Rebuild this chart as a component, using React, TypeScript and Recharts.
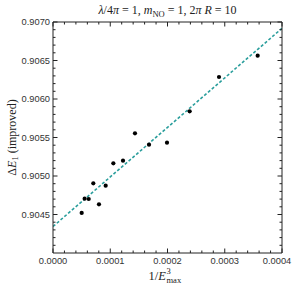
import React from "react";
import { ComposedChart, XAxis, YAxis, Scatter, Line } from "recharts";

// Data points (1/E_max^3 vs ΔE_1 improved)
const pointX = [0.0000501, 0.0000553, 0.0000624, 0.0000704, 0.0000803, 0.000092, 0.0001054, 0.0001223, 0.0001432, 0.0001677, 0.0001991, 0.0002387, 0.00029, 0.0003575];
const pointY = [0.90452, 0.904705, 0.904701, 0.904905, 0.904632, 0.904874, 0.905165, 0.905199, 0.905554, 0.905407, 0.905433, 0.90584, 0.906286, 0.906563];

// Fitted line endpoints
const fitX = [0, 0.0004];
const fitY = [0.904344, 0.906918];

// Axis ticks
const xMajorTicks = [0, 0.0001, 0.0002, 0.0003, 0.0004];
const yMajorTicks = [0.9045, 0.905, 0.9055, 0.906, 0.9065, 0.907];
const xDomain = [0, 0.0004];
const yDomain = [0.904, 0.907];

const points = pointX.map((x, i) => ({ x, y: pointY[i] }));
const fitLine = fitX.map((x, i) => ({ x, y: fitY[i] }));

const xMinorStep = 0.00002;
const yMinorStep = 0.0001;
const xTicks: number[] = [];
for (let i = 0; i <= 20; i++) xTicks.push(i * xMinorStep);
const yTicks: number[] = [];
for (let i = 1; i <= 30; i++) yTicks.push(0.904 + i * yMinorStep);

const isXMajor = (v: number) => xMajorTicks.some((m) => Math.abs(m - v) < 1e-9);
const isYMajor = (v: number) => yMajorTicks.some((m) => Math.abs(m - v) < 1e-9);

const FRAME = "#222";
const TICK_FONT = "'Liberation Sans', Arial, sans-serif";
const SERIF = "'Liberation Serif', 'Times New Roman', serif";
const TEAL = "#2a9e9c";
const TICK_FS = 9.3;

const makeTick = (side: "bottom" | "top" | "left" | "right") => (props: any) => {
  const { x, y, payload } = props;
  const v = payload.value;
  const major = side === "bottom" || side === "top" ? isXMajor(v) : isYMajor(v);
  const len = major ? 4.5 : 2.5;
  if (side === "bottom") {
    // keep the last label inside the picture, as the reference does
    const lx = Math.min(x, 277);
    return (
      <g>
        <line x1={x} y1={y} x2={x} y2={y - len} stroke={FRAME} strokeWidth={1} />
        {major && (
          <text x={lx} y={y + 10.5} textAnchor="middle" fontSize={TICK_FS} fontFamily={TICK_FONT} fill="#333">
            {v.toFixed(4)}
          </text>
        )}
      </g>
    );
  }
  if (side === "top") {
    return <line x1={x} y1={y} x2={x} y2={y + len} stroke={FRAME} strokeWidth={1} />;
  }
  if (side === "left") {
    return (
      <g>
        <line x1={x} y1={y} x2={x + len} y2={y} stroke={FRAME} strokeWidth={1} />
        {major && (
          <text x={x - 3} y={y + 3.3} textAnchor="end" fontSize={TICK_FS} fontFamily={TICK_FONT} fill="#333">
            {v.toFixed(4)}
          </text>
        )}
      </g>
    );
  }
  return <line x1={x} y1={y} x2={x - len} y2={y} stroke={FRAME} strokeWidth={1} />;
};

const XLabel = (props: any) => {
  const { viewBox } = props;
  const cx = viewBox.x + viewBox.width / 2;
  const x0 = cx - 19;
  const base = 280;
  return (
    <g fontFamily={SERIF} fill="#222">
      <text x={x0} y={base} fontSize={12.5}>
        1/<tspan fontStyle="italic">E</tspan>
      </text>
      <text x={x0 + 18} y={base - 6.5} fontSize={8.5}>3</text>
      <text x={x0 + 18} y={base + 3} fontSize={8.5}>max</text>
    </g>
  );
};

const YLabel = (props: any) => {
  const { viewBox } = props;
  const cy = viewBox.y + viewBox.height / 2;
  const cx = 12;
  return (
    <text
      x={cx}
      y={cy}
      transform={`rotate(-90, ${cx}, ${cy})`}
      textAnchor="middle"
      fontSize={12}
      fontFamily={SERIF}
      fill="#222"
      dominantBaseline="central"
    >
      Δ<tspan fontStyle="italic">E</tspan>
      <tspan fontSize={8.5} dy={3}>1</tspan>
      <tspan dy={-3}> (improved)</tspan>
    </text>
  );
};

const Title = (props: any) => {
  const { viewBox } = props;
  const cx = viewBox.x + viewBox.width / 2;
  return (
    <text x={cx} y={14} textAnchor="middle" fontSize={12} fontFamily={SERIF} fill="#222">
      <tspan fontStyle="italic">λ</tspan>/4<tspan fontStyle="italic">π</tspan> = 1,{" "}
      <tspan fontStyle="italic">m</tspan>
      <tspan fontSize={8.5} dy={2.5}>NO</tspan>
      <tspan dy={-2.5}> = 1, 2</tspan>
      <tspan fontStyle="italic">π R</tspan> = 10
    </text>
  );
};

export default function App() {
  return (
    <div style={{ position: "absolute", left: 0, top: 0, background: "#fff" }}>
      <ComposedChart width={293} height={287} margin={{ top: 0, right: 0, bottom: 0, left: 0 }}>
        <XAxis
          xAxisId="b"
          orientation="bottom"
          type="number"
          dataKey="x"
          domain={xDomain}
          allowDataOverflow
          ticks={xTicks}
          interval={0}
          tick={makeTick("bottom")}
          tickLine={false}
          tickSize={0}
          tickMargin={0}
          height={34}
          axisLine={{ stroke: FRAME }}
          label={<XLabel />}
        />
        <XAxis
          xAxisId="t"
          orientation="top"
          type="number"
          dataKey="x"
          domain={xDomain}
          allowDataOverflow
          ticks={xTicks}
          interval={0}
          tick={makeTick("top")}
          tickLine={false}
          tickSize={0}
          tickMargin={0}
          height={22}
          axisLine={{ stroke: FRAME }}
          label={<Title />}
        />
        <YAxis
          yAxisId="l"
          orientation="left"
          type="number"
          dataKey="y"
          domain={yDomain}
          allowDataOverflow
          ticks={yTicks}
          interval={0}
          tick={makeTick("left")}
          tickLine={false}
          tickSize={0}
          tickMargin={0}
          width={53}
          axisLine={{ stroke: FRAME }}
          label={<YLabel />}
        />
        <YAxis
          yAxisId="r"
          orientation="right"
          type="number"
          dataKey="y"
          domain={yDomain}
          allowDataOverflow
          ticks={yTicks}
          interval={0}
          tick={makeTick("right")}
          tickLine={false}
          tickSize={0}
          tickMargin={0}
          width={11}
          axisLine={{ stroke: FRAME }}
        />
        <Line
          xAxisId="b"
          yAxisId="l"
          data={fitLine}
          dataKey="y"
          type="linear"
          stroke={TEAL}
          strokeWidth={1.6}
          strokeDasharray="3 2"
          dot={false}
          activeDot={false}
          isAnimationActive={false}
        />
        <Scatter
          xAxisId="b"
          yAxisId="l"
          data={points}
          dataKey="y"
          fill="#000"
          shape={(p: any) => <circle cx={p.cx} cy={p.cy} r={2.1} fill="#000" />}
          isAnimationActive={false}
        />
        <Scatter xAxisId="t" yAxisId="r" data={points} dataKey="y" shape={() => <g />} isAnimationActive={false} />
      </ComposedChart>
    </div>
  );
}
